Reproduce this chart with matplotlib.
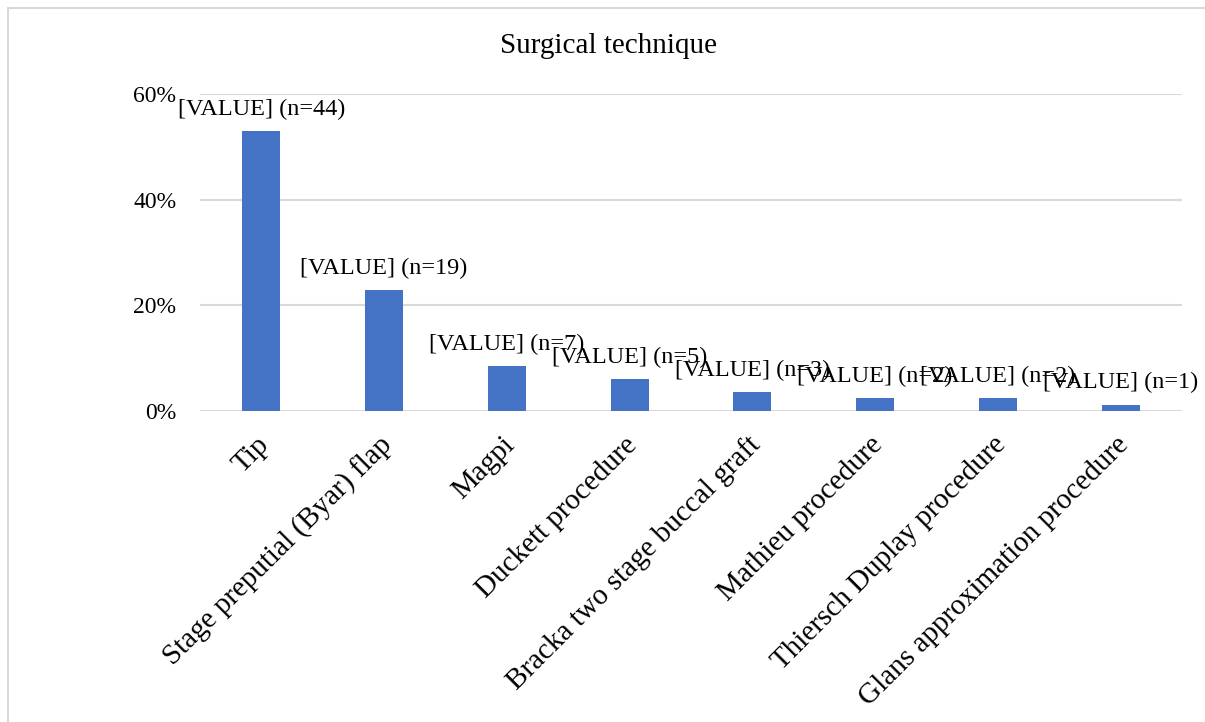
import matplotlib
matplotlib.use("Agg")
import matplotlib.pyplot as plt
from matplotlib.patches import Rectangle
from matplotlib.ticker import PercentFormatter
import matplotlib.transforms as mtransforms

categories = ["Tip", "Stage preputial (Byar) flap", "Magpi", "Duckett procedure",
              "Bracka two stage buccal graft", "Mathieu procedure",
              "Thiersch Duplay procedure", "Glans approximation procedure"]
counts = [44, 19, 7, 5, 3, 2, 2, 1]
total = 83
shares = [c / total for c in counts]
yticks = [0, 0.2, 0.4, 0.6]

plt.rcParams['font.family'] = ['Liberation Serif', 'DejaVu Serif']

fig = plt.figure(figsize=(12.05, 7.22), dpi=100)
W, H = 1205, 722
ax = fig.add_axes([200 / W, 1 - 411 / H, (1182 - 200) / W, (411 - 94) / H])

x = list(range(len(categories)))
ax.bar(x, shares, width=0.31, color="#4472C4", zorder=3)
ax.set_xlim(-0.5, len(categories) - 0.5)
ax.set_ylim(0, 0.6)
ax.set_yticks(yticks)
ax.yaxis.set_major_formatter(PercentFormatter(1.0, decimals=0))
ax.grid(axis='y', color='#D9D9D9', linewidth=1.5, zorder=0)
for s in ax.spines.values():
    s.set_visible(False)
ax.tick_params(axis='both', length=0, labelsize=17, colors='black')
ax.tick_params(axis='y', pad=17)

ax.set_xticks(x)
ax.set_xticklabels([])
offset = mtransforms.ScaledTranslation(4 / 100, -30 / 100, fig.dpi_scale_trans)
for xi, lab in zip(x, categories):
    ax.text(xi, 0, lab, rotation=45, rotation_mode='anchor', ha='right', va='center',
            fontsize=21, transform=ax.transData + offset)

for xi, v, c in zip(x, shares, counts):
    ax.annotate(f"[VALUE] (n={c})", (xi, v), xytext=(0, 8), textcoords='offset points',
                ha='center', va='bottom', fontsize=17.5)

fig.text(609 / W, 1 - 46 / H, "Surgical technique", ha='center', va='center', fontsize=21)

fig.patches.append(Rectangle((8 / W, -0.1), 1.2, 1 - 8 / H + 0.1, transform=fig.transFigure,
                             fill=False, edgecolor='#D9D9D9', linewidth=1.5))

fig.savefig("out.png", dpi=100)
